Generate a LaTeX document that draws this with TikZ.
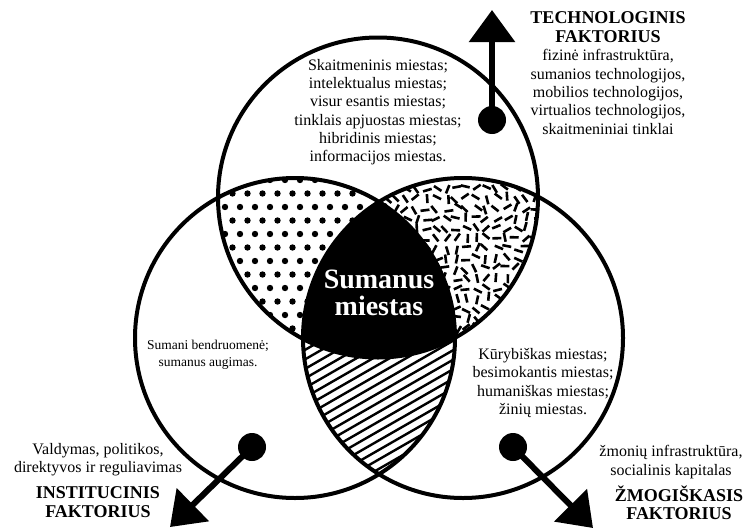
\documentclass[tikz,border=0pt]{standalone}
\usepackage{fontspec}
\setmainfont{Liberation Serif}
\usetikzlibrary{arrows.meta}
\tikzset{
  ring/.style={line width=4pt},
  blurb/.style={align=center,font=\fontsize{16}{18.3}\selectfont},
  factorname/.style={align=center,font=\bfseries\fontsize{18}{18.5}\selectfont},
  factorarrow/.style={line width=6pt,-{Triangle[length=32pt,width=45pt]}},
}
\begin{document}
\begin{tikzpicture}[x=1pt,y=-1pt]
  \useasboundingbox (0,0) rectangle (743,530);
  \coordinate (tech) at (378,197.5); \coordinate (inst) at (295,338);
  \coordinate (hum) at (463,338);
  % dotted part
  \begin{scope}
    \clip (tech) circle (160); \clip (inst) circle (160);
    \foreach \r in {0,...,13} \foreach \c in {0,...,12}
      \fill ({210+15*\c+7.5*mod(\r,2)},{180+13.5*\r}) circle (3.2);
  \end{scope}
  % dashes
  \begin{scope}
    \clip (tech) circle (160); \clip (hum) circle (160);
    \pgfmathsetseed{11}
    \foreach \r in {0,...,17} \foreach \c in {0,...,17} {
      \pgfmathsetmacro\px{374+10*\c+5*rnd}
      \pgfmathsetmacro\py{186+10*\r+5*rnd}
      \pgfmathsetmacro\ang{180*rnd}
      \draw[line width=2.6pt] (\px,\py) ++(\ang:4.5) -- ++(\ang:-9);
    }
  \end{scope}
  % hatched part
  \begin{scope}
    \clip (inst) circle (160); \clip (hum) circle (160);
    \foreach \k in {0,...,27}
      \draw[line width=2.4pt] (290,{330+9.5*\k}) -- ++(200,-115);
  \end{scope}
  % centre
  \begin{scope}
    \clip (tech) circle (160); \clip (inst) circle (160);
    \fill (hum) circle (160);
  \end{scope}
  \draw[ring] (tech) circle (160) (inst) circle (160) (hum) circle (160);

  \node[font=\bfseries\fontsize{28}{27}\selectfont,text=white,align=center] (core) at (379,293) {Sumanus\\miestas};
  \node[blurb] (techcity) at (378,112) {Skaitmeninis miestas;\\intelektualus miestas;\\visur esantis miestas;\\tinklais apjuostas miestas;\\hibridinis miestas;\\informacijos miestas.};
  \node[blurb,font=\fontsize{13.5}{17.5}\selectfont] (instcity) at (208,355) {Sumani bendruomenė;\\sumanus augimas.};
  \node[blurb] (humcity) at (543,383) {Kūrybiškas miestas;\\besimokantis miestas;\\humaniškas miestas;\\žinių miestas.};

  \node[factorname] (techname) at (608,27) {TECHNOLOGINIS\\FAKTORIUS};
  \node[blurb] (techkeys) at (608,92) {fizinė infrastruktūra,\\sumanios technologijos,\\mobilios technologijos,\\virtualios technologijos,\\skaitmeniniai tinklai};
  \node[blurb] (instkeys) at (98,460) {Valdymas, politikos,\\direktyvos ir reguliavimas};
  \node[factorname] (instname) at (98,502) {INSTITUCINIS\\FAKTORIUS};
  \node[blurb] (humkeys) at (671,462) {žmonių infrastruktūra,\\socialinis kapitalas};
  \node[factorname] (humname) at (679,503) {ŽMOGIŠKASIS\\FAKTORIUS};

  \coordinate (techdot) at (492,120); \coordinate (techtip) at (492,10);
  \coordinate (instdot) at (252,447); \coordinate (insttip) at (170,527);
  \coordinate (humdot) at (513,447); \coordinate (humtip) at (593,528);
  \fill (techdot) circle (14) (instdot) circle (14) (humdot) circle (14);
  \draw[factorarrow] (techdot) -- (techtip);
  \draw[factorarrow] (instdot) -- (insttip);
  \draw[factorarrow] (humdot) -- (humtip);
\end{tikzpicture}
\end{document}
